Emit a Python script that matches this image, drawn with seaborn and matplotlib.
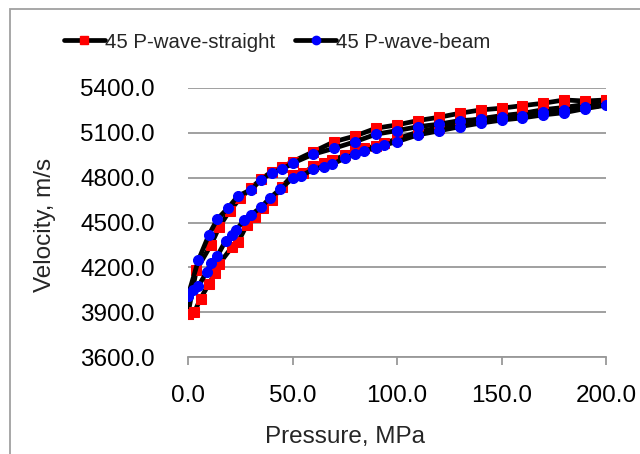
import matplotlib
matplotlib.use("Agg")
import matplotlib.pyplot as plt
import seaborn as sns
import pandas as pd
from matplotlib.patches import Rectangle
from matplotlib.lines import Line2D

# 45 P-wave-straight: loading then unloading
p_straight = [0, 3, 6, 10, 13, 15, 21, 24, 28, 32, 36, 40, 45, 50, 55, 60, 65, 69, 75, 80, 84, 90, 94, 100,
              110, 120, 130, 140, 150, 160, 170, 180, 190, 200,
              190, 180, 170, 160, 150, 140, 130, 120, 110, 100, 90, 80, 70, 60, 50, 45, 40, 35, 30, 25,
              20, 15, 11, 4, 0]
v_straight = [3890, 3900, 3990, 4090, 4160, 4225, 4335, 4370, 4480, 4535, 4600, 4650, 4740, 4815, 4830, 4875,
              4895, 4915, 4950, 4985, 4997, 5010, 5030, 5060,
              5105, 5135, 5165, 5195, 5215, 5230, 5255, 5270, 5290, 5320,
              5313, 5320, 5298, 5282, 5265, 5253, 5231, 5204, 5182, 5153, 5131, 5079, 5041, 4974, 4907,
              4870, 4840, 4790, 4729, 4662, 4580, 4472, 4350, 4182, 3890]

# 45 P-wave-beam: loading then unloading
p_beam = [0, 2.5, 5, 9, 11, 14, 18, 21, 23, 27, 30, 35, 39, 44, 50, 54, 60, 65, 69, 75, 80, 84, 90, 94, 100,
          110, 120, 130, 140, 150, 160, 170, 180, 190, 200,
          190, 180, 170, 160, 150, 140, 130, 120, 110, 100, 90, 80, 70, 60, 50, 45, 40, 35, 30, 24,
          19, 14, 10, 5, 0]
v_beam = [4010, 4045, 4075, 4170, 4230, 4275, 4378, 4417, 4450, 4517, 4550, 4602, 4662, 4722, 4796, 4811,
          4856, 4874, 4890, 4930, 4957, 4979, 5001, 5019, 5041,
          5086, 5113, 5141, 5165, 5185, 5200, 5220, 5235, 5262, 5285,
          5275, 5252, 5240, 5215, 5203, 5190, 5182, 5158, 5141, 5115, 5091, 5041, 4997, 4957, 4897,
          4856, 4834, 4785, 4718, 4678, 4595, 4522, 4417, 4249, 4010]

series_names = ["45 P-wave-straight", "45 P-wave-beam"]
x_ticks = [0, 50, 100, 150, 200]
y_ticks = [3600, 3900, 4200, 4500, 4800, 5100, 5400]

sns.set_theme(style="white")
plt.rcParams["font.family"] = ["Liberation Sans", "DejaVu Sans"]

fig = plt.figure(figsize=(6.4, 4.54), dpi=100)
ax = fig.add_axes([188/640, 1-357/454, 418/640, 269/454])

df_s = pd.DataFrame({"P": p_straight, "V": v_straight})
df_b = pd.DataFrame({"P": p_beam, "V": v_beam})

sns.lineplot(data=df_s, x="P", y="V", sort=False, estimator=None, ax=ax, color="black", lw=3.4,
             marker="s", markersize=6.8, markerfacecolor="#ff0000", markeredgecolor="#ff0000", zorder=3)
sns.lineplot(data=df_b, x="P", y="V", sort=False, estimator=None, ax=ax, color="black", lw=3.4,
             marker="o", markersize=7.2, markerfacecolor="#0000ff", markeredgecolor="#0000ff", zorder=4)

ax.set_xlim(0, 200)
ax.set_ylim(3600, 5400)
ax.set_xticks(x_ticks)
ax.set_yticks(y_ticks)
ax.set_xticklabels([f"{t:.1f}" for t in x_ticks])
ax.set_yticklabels([f"{t:.1f}" for t in y_ticks])
ax.grid(axis="y", color="#999999", lw=1.3)
ax.grid(axis="x", visible=False)
for s in ["top", "right", "left"]:
    ax.spines[s].set_visible(False)
ax.spines["bottom"].set_color("#999999")
ax.spines["bottom"].set_linewidth(1.3)
ax.tick_params(axis="y", length=0, pad=24, labelsize=17.5, colors="black")
ax.tick_params(axis="x", length=6, width=1.3, color="#999999", direction="out", pad=14,
               labelsize=17.5, labelcolor="black", bottom=True)
ax.set_axisbelow(True)
ax.set_facecolor("white")

ax.set_xlabel("Pressure, MPa", fontsize=17.5)
ax.set_ylabel("Velocity, m/s", fontsize=17.5)
ax.xaxis.set_label_coords((345-188)/418, (357-437)/269)
ax.yaxis.set_label_coords((45-188)/418, 0.49)
ax.xaxis.label.set_va("center")
ax.yaxis.label.set_va("center")

handles = [Line2D([], [], color="black", lw=3.4, marker="s", markersize=6,
                  markerfacecolor="#ff0000", markeredgecolor="#ff0000"),
           Line2D([], [], color="black", lw=3.4, marker="o", markersize=6,
                  markerfacecolor="#0000ff", markeredgecolor="#0000ff")]
fig.legend(handles, series_names, loc="center", bbox_to_anchor=(277/640, 1-42/454), ncol=2,
           frameon=False, fontsize=14.7, handlelength=2.0, handletextpad=0.0, columnspacing=1.0,
           borderaxespad=0)

fig.patches.append(Rectangle((10/640, -0.1), 1.2, 1-9/454+0.1, transform=fig.transFigure,
                             fill=False, edgecolor="#a0a0a0", lw=1.3))

fig.savefig("out.png", dpi=100)
